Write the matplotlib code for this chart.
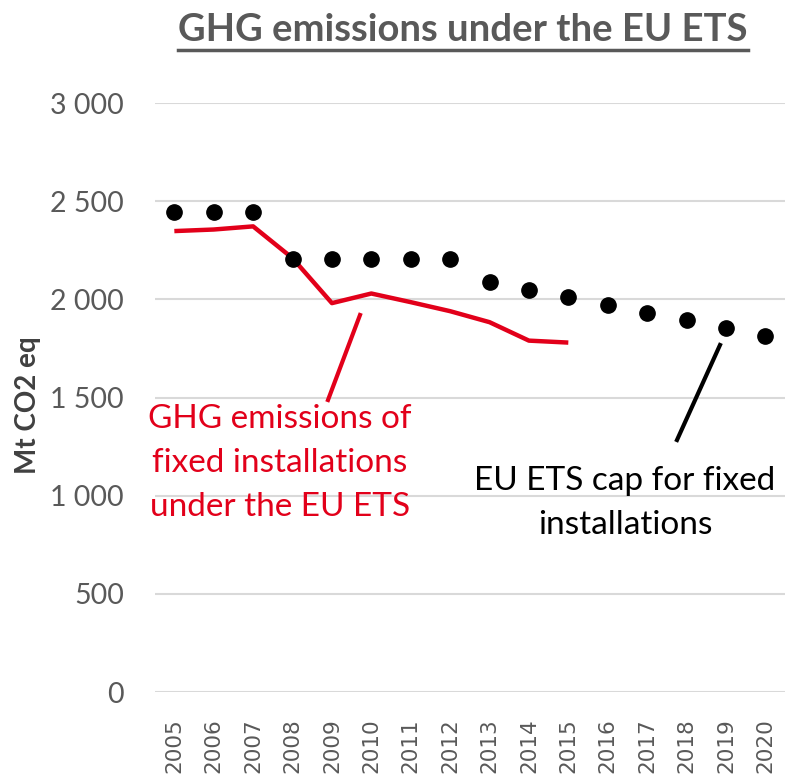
import numpy as np
import matplotlib
matplotlib.use("Agg")
import matplotlib.pyplot as plt
from matplotlib.lines import Line2D

YEARS = [str(y) for y in range(2005, 2021)]
CAP = [2445, 2445, 2445, 2205, 2205, 2205, 2205, 2205, 2088, 2048, 2010, 1970, 1932, 1893, 1855, 1816]
EMIS_YEARS = YEARS[:11]
EMIS = [2348, 2356, 2372, 2210, 1981, 2030, 1986, 1940, 1884, 1790, 1780]
YTICKS = [0, 500, 1000, 1500, 2000, 2500, 3000]

GRAY = "#595959"
RED = "#e2001a"

plt.rcParams["font.family"] = ["Lato", "DejaVu Sans"]

fig = plt.figure(figsize=(7.85, 7.78), dpi=100)
ax = fig.add_axes([0.197, 0.1105, 0.803, 0.757])

x = np.arange(len(YEARS))
ax.plot(x[:len(EMIS)], EMIS, color=RED, lw=3.2, solid_capstyle="butt", zorder=3)
ax.plot(x, CAP, "o", color="black", ms=11, zorder=4)

ax.set_xlim(-0.5, len(YEARS) - 0.5)
ax.set_ylim(0, 3000)
ax.set_yticks(YTICKS)
ax.set_yticklabels([f"{v:,}".replace(",", " ") for v in YTICKS], fontsize=20.5, color=GRAY)
ax.set_xticks(x)
ax.set_xticklabels(YEARS, rotation=90, fontsize=15.5, color=GRAY, family="DejaVu Sans",
                   va="top")
ax.tick_params(axis="both", length=0)
ax.tick_params(axis="y", pad=22)
ax.tick_params(axis="x", pad=19)
ax.grid(axis="y", color="#d9d9d9", lw=1.5)
ax.set_axisbelow(True)
for s in ax.spines.values():
    s.set_visible(False)

fig.text(28 / 785, 1 - 405 / 778, "Mt CO2 eq", rotation=90, fontsize=20, fontweight="bold",
         color="#404040", ha="center", va="center")

t = fig.text(463 / 785, 1 - 30 / 778, "GHG emissions under the EU ETS", fontsize=27.5,
             fontweight="bold", color=GRAY, ha="center", va="center")
fig.canvas.draw()
bb = t.get_window_extent().transformed(fig.transFigure.inverted())
fig.add_artist(Line2D([bb.x0, bb.x1], [bb.y0 - 0.004, bb.y0 - 0.004], color=GRAY, lw=2.5,
                      transform=fig.transFigure))

# annotations
fig.text(280 / 785, 1 - 463 / 778, "GHG emissions of\nfixed installations\nunder the EU ETS",
         fontsize=24, color=RED, ha="center", va="center", linespacing=1.6)
fig.add_artist(Line2D([328 / 785, 360 / 785], [1 - 400 / 778, 1 - 315 / 778], color=RED, lw=3,
                      transform=fig.transFigure))
fig.text(625 / 785, 1 - 503 / 778, "EU ETS cap for fixed\ninstallations",
         fontsize=24, color="black", ha="center", va="center", linespacing=1.6)
fig.add_artist(Line2D([677 / 785, 720 / 785], [1 - 440 / 778, 1 - 345 / 778], color="black", lw=3,
                      transform=fig.transFigure))

fig.savefig("out.png", dpi=100)
